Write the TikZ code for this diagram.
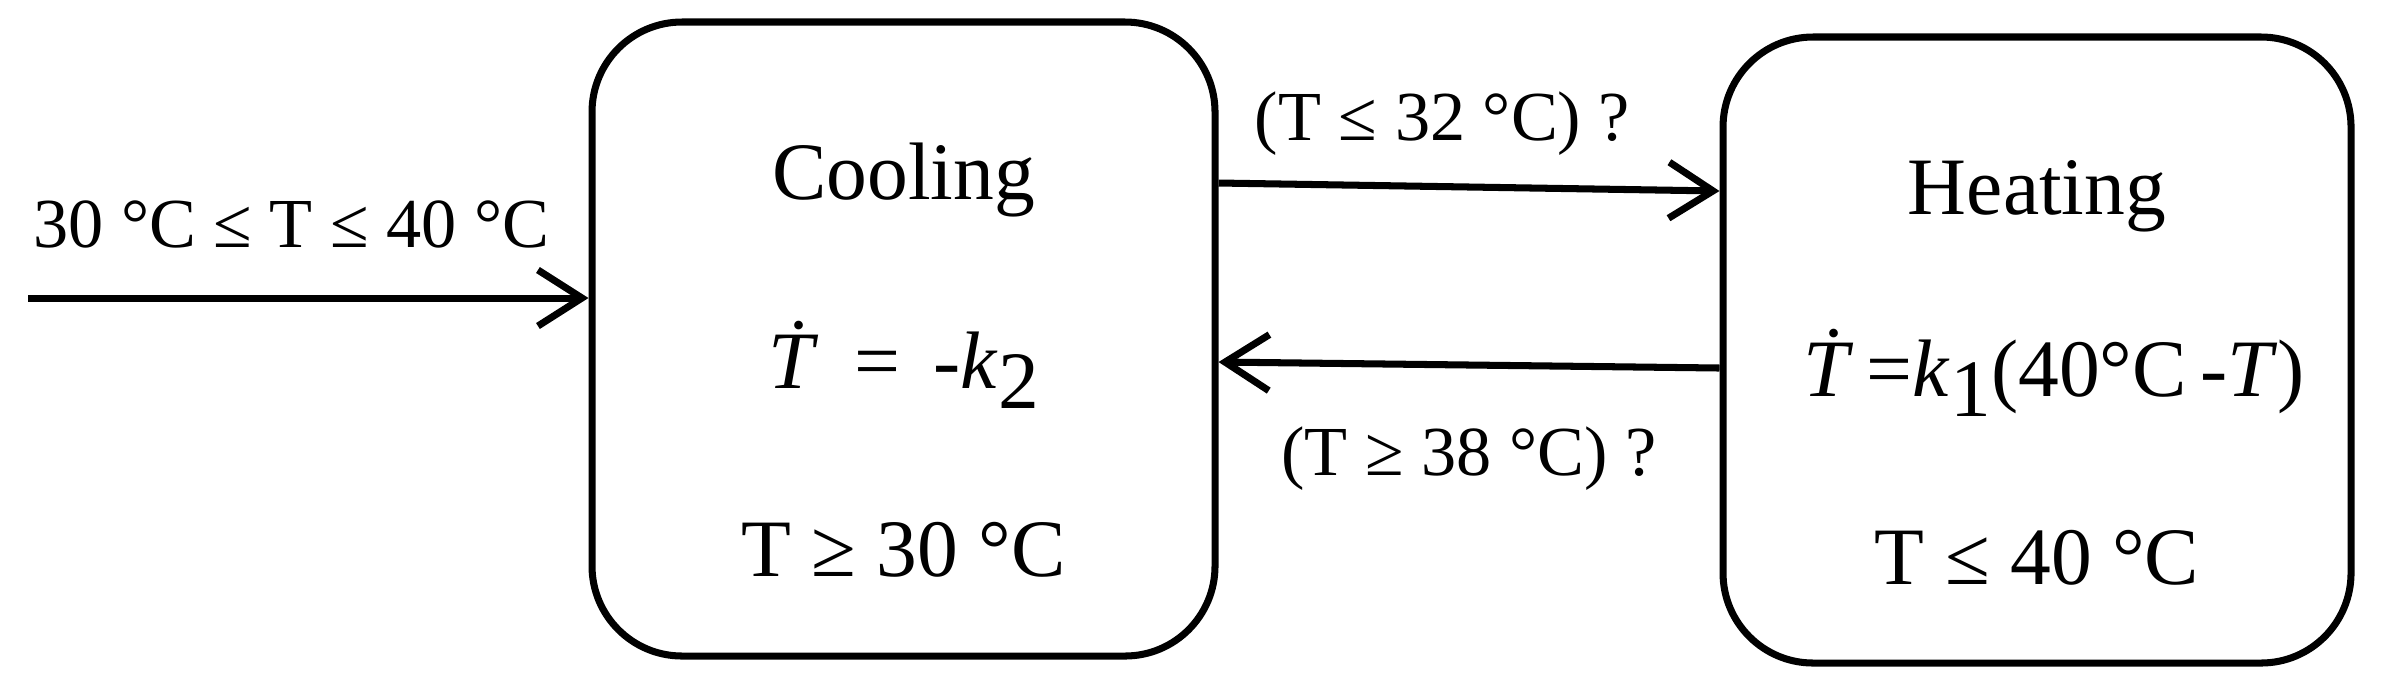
\documentclass[tikz,border=0pt]{standalone}
\usepackage{fontspec}
\setmainfont{Liberation Serif}
\usepackage{tikz}
\usetikzlibrary{shapes,arrows.meta,positioning}
\tikzstyle{line} = [draw, -{Straight Barb[length=2.2mm,width=2.8mm]}, line width=1pt]
\newcommand{\lowsub}[1]{\raisebox{-0.25em}{#1}}

\begin{document}
\begin{tikzpicture}[state/.style={rectangle, rounded corners=0.45cm, draw=black, line width=1pt, minimum width=3.115cm, minimum height=3.17cm}, txt/.style={anchor=base, inner sep=0pt, font=\fontsize{11.6}{14}\selectfont}, lbl/.style={anchor=base, inner sep=0pt, font=\fontsize{10}{12}\selectfont}]

    \useasboundingbox (0,0) rectangle (11.905,3.485);

    \node[state] (cool) at (4.5175,1.79) {};
    \node[state, minimum width=3.14cm, minimum height=3.13cm] (heat) at (10.185,1.735) {};

    % text in the two states
    \node[txt] (cooltitle) at ([yshift=0.70cm]cool.center) {Cooling};
    \node[txt] (cooleq) at ([yshift=-0.245cm]cool.center) {\textit{\.{T}}\hspace{0.45em}=\hspace{0.4em}-\textit{k}\lowsub{2}};
    \node[txt] (coolcond) at ([yshift=-1.185cm]cool.center) {T ≥ 30 °C};
    \node[txt] (heattitle) at ([yshift=0.68cm]heat.center) {Heating};
    \node[txt, xshift=0.085cm] (heateq) at ([yshift=-0.23cm]heat.center) {\textit{\.{T}}\,=\textit{k}\lowsub{1}(40°C\,-\textit{T})};
    \node[txt] (heatcond) at ([yshift=-1.17cm]heat.center) {T ≤ 40 °C};

    \coordinate (start) at (0.14,1.995);

    \draw[line] (start) -- (start -| cool.west)
      node[lbl, pos=0.47, yshift=0.255cm] (inlbl) {30 °C ≤ T ≤ 40 °C};
    \draw[line] ([yshift=0.78cm]cool.east) -- ([yshift=0.795cm]heat.west)
      node[lbl, pos=0.447, yshift=0.23cm] (uplbl) {(T ≤ 32 °C) ?};
    \draw[line] ([yshift=-0.09cm]heat.west) -- ([yshift=-0.115cm]cool.east)
      node[lbl, midway, yshift=-0.55cm] (downlbl) {(T ≥ 38 °C) ?};

\end{tikzpicture}
\end{document}
